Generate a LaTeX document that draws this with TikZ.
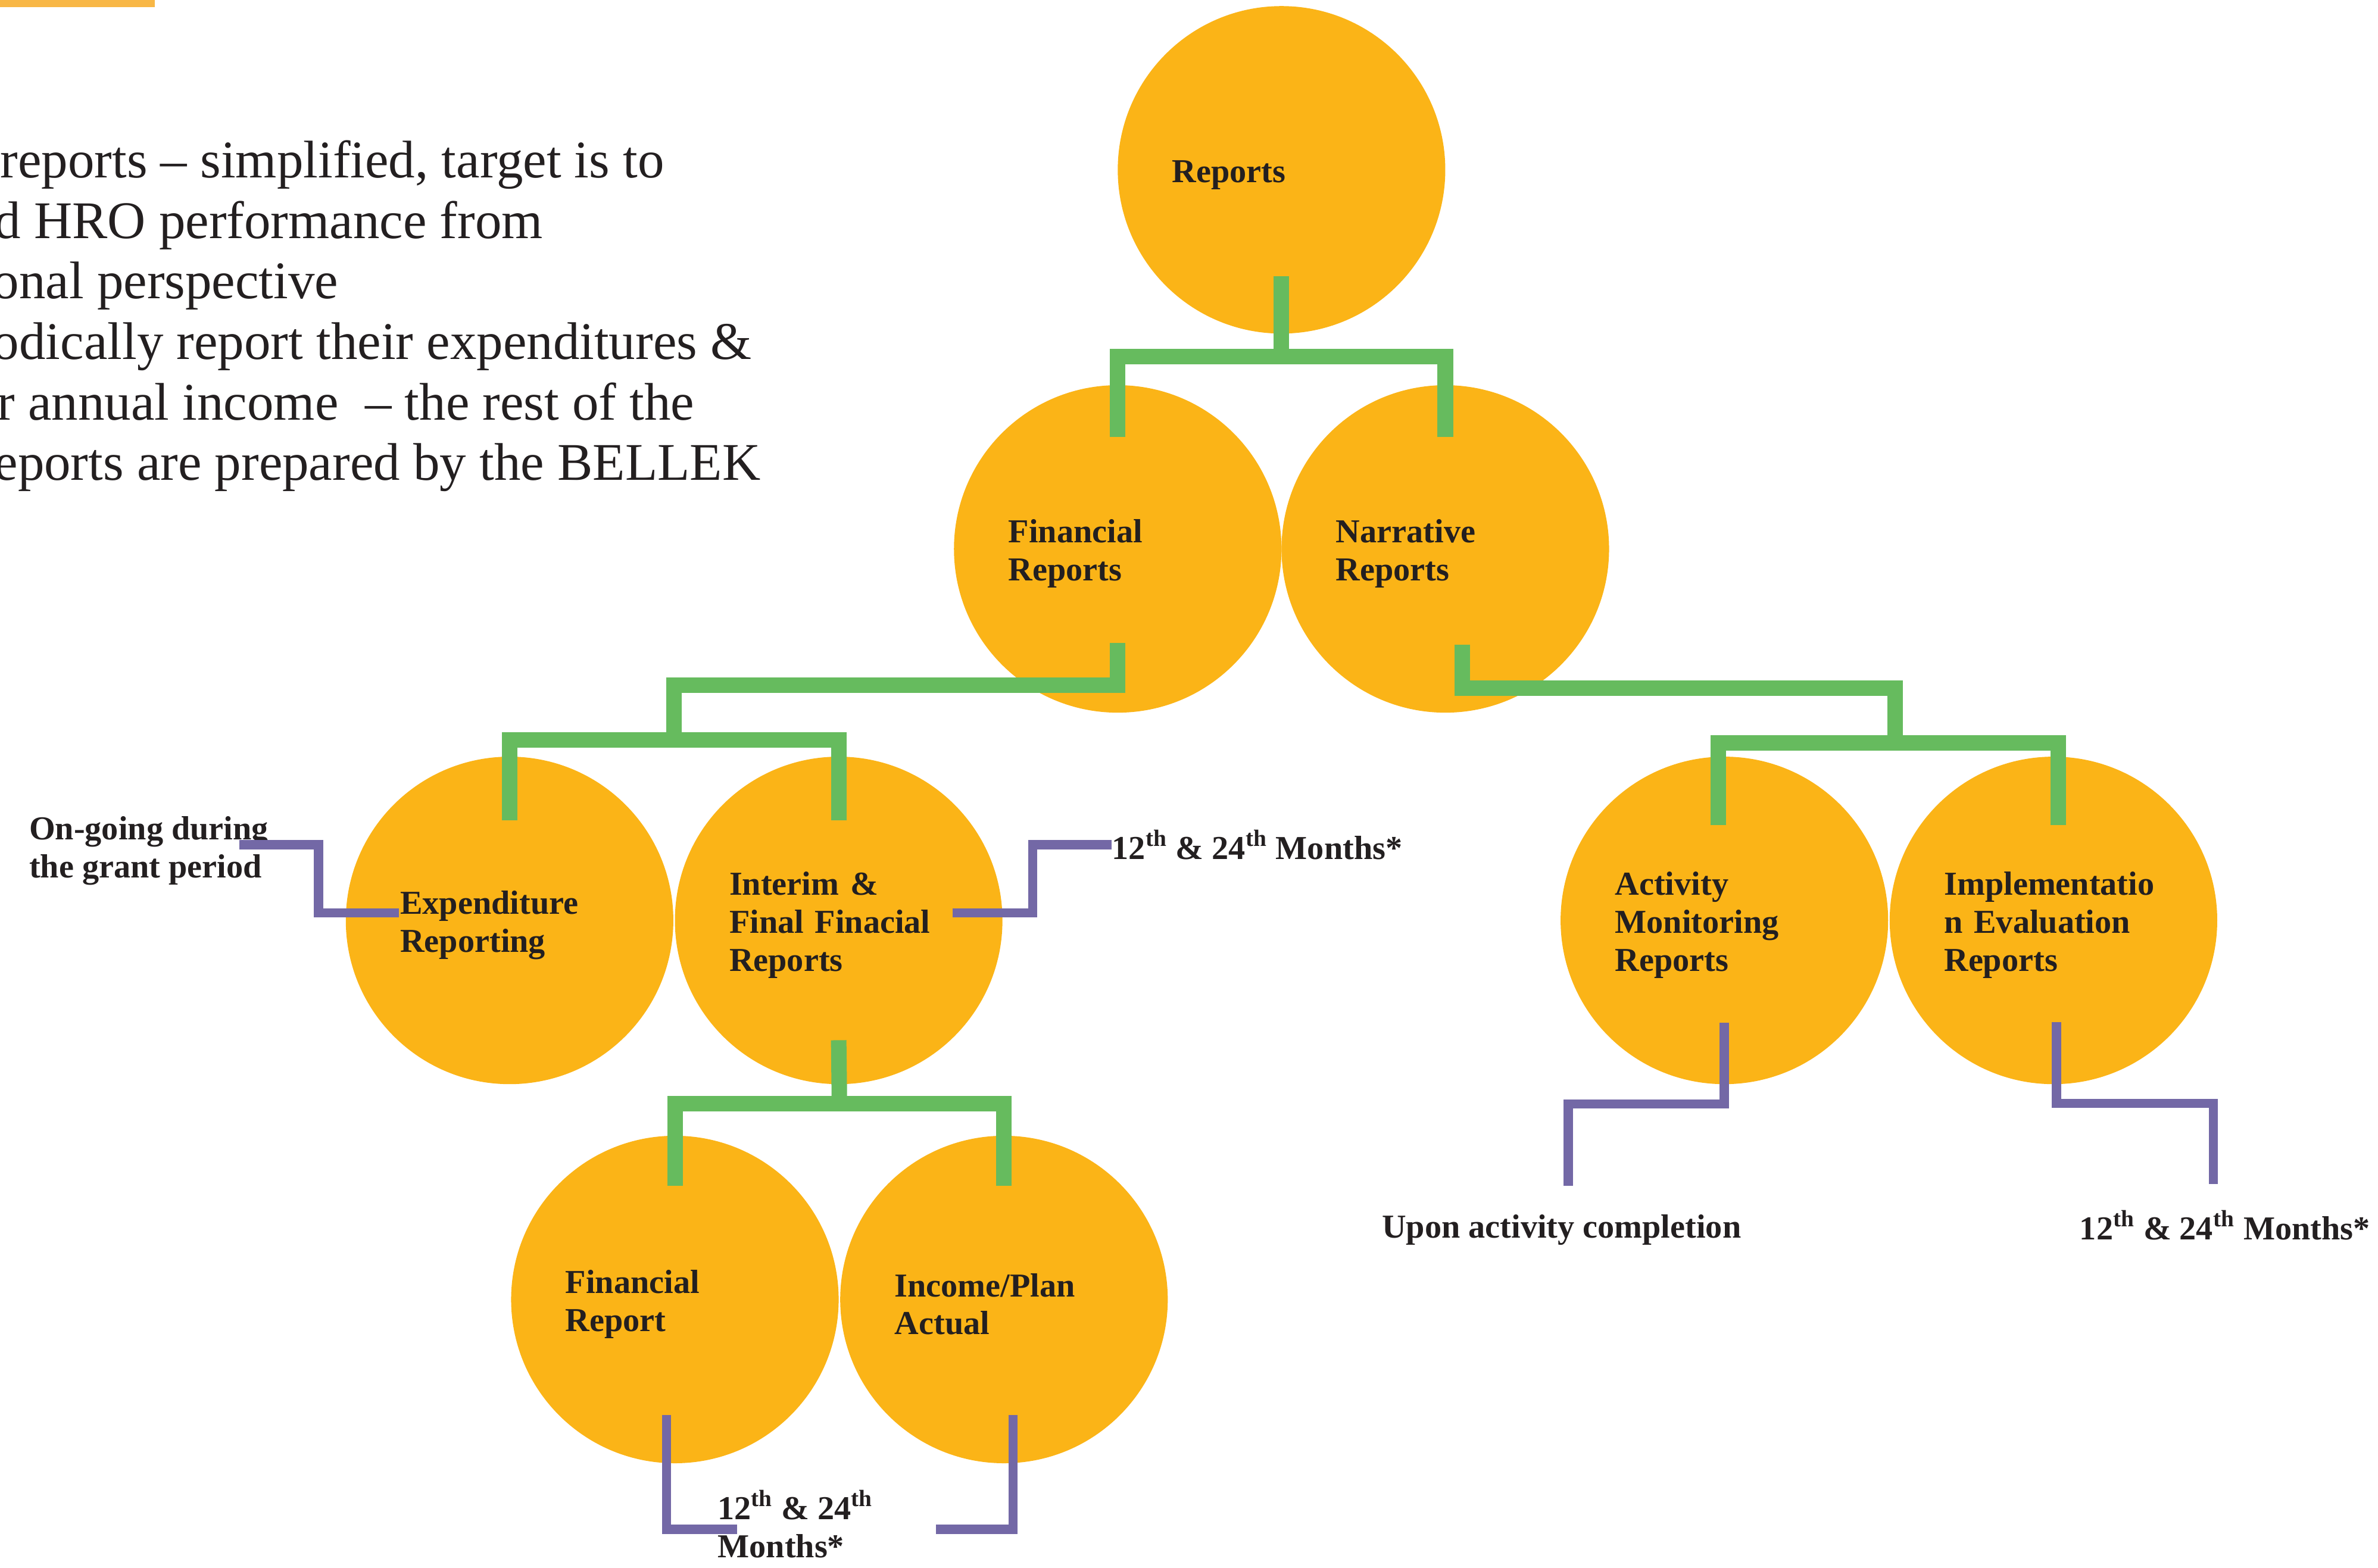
\documentclass[tikz,border=0pt]{standalone}
\usepackage{fontspec}
\setmainfont{Liberation Serif}
\usetikzlibrary{calc}
\definecolor{circfill}{RGB}{251,180,23}
\definecolor{trunkgreen}{RGB}{102,187,94}
\definecolor{leaderpurple}{RGB}{115,104,166}
\definecolor{barorange}{RGB}{248,183,70}
\definecolor{inktext}{RGB}{35,31,32}
\tikzset{
  report/.style={circle,fill=circfill,minimum size=5.5cm,inner sep=0pt,text width=3.67cm,align=left,text height=15.5pt,text=inktext,font=\fontsize{16}{18.1}\selectfont\bfseries},
  trunk/.style={draw=trunkgreen,line width=7.4pt},
  leader/.style={draw=leaderpurple,line width=4.4pt},
  note/.style={anchor=west,inner sep=0pt,align=left,text=inktext,font=\fontsize{16}{18.1}\selectfont\bfseries},
  intro/.style={anchor=base west,inner sep=0pt,text=inktext,font=\fontsize{25.3}{29}\selectfont}
}
\begin{document}
\begin{tikzpicture}[x=0.02547cm,y=-0.02547cm]
\useasboundingbox (0,0) rectangle (1568,1034);
\clip (0,0) rectangle (1568,1034);
\fill[barorange] (0,0) rectangle (102,4.9);
\node[intro] (intro1) at (0,117.2) {reports – simplified, target is to};
\node[intro] (intro2) at (-4,157.1) {d HRO performance from};
\node[intro] (intro3) at (-5,197) {onal perspective};
\node[intro] (intro4) at (-5,236.9) {odically report their expenditures \&};
\node[intro] (intro5) at (-2,276.8) {r annual income~ – the rest of the};
\node[intro] (intro6) at (-4,316.7) {eports are prepared by the BELLEK};
\node[report] (root) at (845,112) {Reports};
\node[report] (fin) at (737,362) {Financial\\Reports};
\node[report] (nar) at (953,362) {Narrative\\Reports};
\node[report] (exp) at (336,607) {Expenditure\\Reporting};
\node[report] (int) at (553,607) {Interim \&\\Final Finacial\\Reports};
\node[report] (frep) at (445,857) {Financial\\Report};
\node[report] (inc) at (662,857) {Income/Plan\\Actual};
\node[report] (act) at (1137,607) {Activity\\Monitoring\\Reports};
\node[report] (imp) at (1354,607) {Implementatio\\n Evaluation\\Reports};
\coordinate (jroot) at ($(root)+(0,123)$);
\coordinate (jfin) at ($(exp)!0.5!(int)+(0,-119)$);
\coordinate (jnar) at ($(act)!0.5!(imp)+(4,-117)$);
\coordinate (jint) at ($(frep)!0.5!(inc)+(0,-129)$);
\draw[trunk] ($(root)+(0,70)$) -- (jroot);
\draw[trunk] ($(fin)+(0,-74)$) |- (jroot) -| ($(nar)+(0,-74)$);
\draw[trunk] ($(fin)+(0,62)$) -- ($(fin)+(0,90)$) -| (jfin);
\draw[trunk] ($(exp)+(0,-66)$) |- (jfin) -| ($(int)+(0,-66)$);
\draw[trunk] ($(nar)+(11,63)$) -- ($(nar)+(11,92)$) -| (jnar);
\draw[trunk] ($(act)+(-4,-63)$) |- (jnar) -| ($(imp)+(3,-63)$);
\draw[trunk] ($(int)+(0,79)$) -- (jint);
\draw[trunk] ($(frep)+(0,-75)$) |- (jint) -| ($(inc)+(0,-75)$);
\node[note] (ongoing) at (19,561) {On-going during\\the grant period};
\node[note] (m1) at (733,557) {12\textsuperscript{th} \& 24\textsuperscript{th} Months*};
\node[note] (m2) at (473,1005) {12\textsuperscript{th} \& 24\textsuperscript{th}\\Months*};
\node[note] (upon) at (911,811) {Upon activity completion};
\node[note] (m3) at (1371,808) {12\textsuperscript{th} \& 24\textsuperscript{th} Months*};
\draw[leader] ($(exp)+(-73,-5)$) -| ($(exp)+(-126,-50)$) -- ($(exp)+(-178,-50)$);
\draw[leader] ($(int)+(75,-5)$) -| ($(int)+(128,-50)$) -- (m1.west);
\draw[leader] ($(frep)+(-5.5,76)$) |- ($(frep)+(41,151.5)$);
\draw[leader] ($(inc)+(6,76)$) |- ($(inc)+(-45,151.5)$);
\draw[leader] ($(act)+(0,67.5)$) |- ($(act)+(-103,121)$) -- ($(act)+(-103,175)$);
\draw[leader] ($(imp)+(2,67)$) |- ($(imp)+(105.5,120.6)$) -- ($(imp)+(105.5,174)$);
\end{tikzpicture}
\end{document}
